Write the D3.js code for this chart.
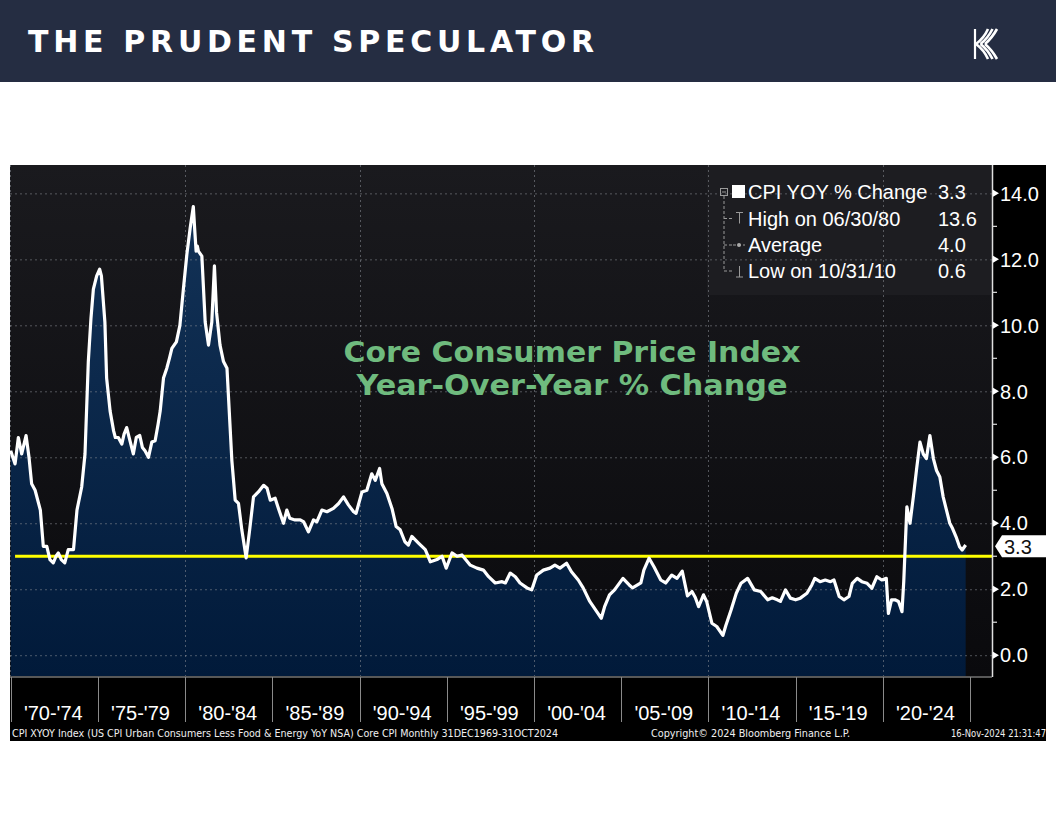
<!DOCTYPE html>
<html>
<head>
<meta charset="utf-8">
<script src="https://cdn.jsdelivr.net/npm/d3@7"></script>
<style>
html,body{margin:0;padding:0;background:#fff;}
svg{display:block;}
</style>
</head>
<body>
<svg id="chart" width="1056" height="816"></svg>
<script>
// ---------- DATA ----------
const years = [
1970.0,1970.25,1970.44,1970.63,1970.88,1971.05,1971.2,1971.4,1971.7,1971.87,
1972.07,1972.25,1972.44,1972.6,1972.73,1972.9,1973.1,1973.3,1973.6,1973.8,
1974.07,1974.26,1974.45,1974.6,1974.74,1974.93,1975.1,1975.2,1975.4,1975.5,
1975.7,1975.9,1976.0,1976.17,1976.37,1976.5,1976.65,1976.84,1977.03,1977.2,
1977.4,1977.55,1977.7,1977.9,1978.09,1978.28,1978.45,1978.57,1978.76,1978.95,
1979.1,1979.24,1979.5,1979.7,1979.9,1980.1,1980.29,1980.47,1980.55,1980.63,
1980.7,1980.76,1980.96,1981.15,1981.34,1981.53,1981.68,1981.8,1982.0,1982.2,
1982.4,1982.58,1982.68,1982.87,1983.06,1983.25,1983.5,1983.7,1983.92,1984.2,
1984.5,1984.7,1984.88,1985.16,1985.35,1985.64,1985.83,1986.0,1986.3,1986.6,
1986.8,1987.07,1987.36,1987.55,1987.84,1988.13,1988.5,1988.8,1989.08,1989.37,
1989.66,1989.8,1990.14,1990.42,1990.7,1990.9,1991.15,1991.28,1991.57,1991.86,
1992.1,1992.33,1992.6,1992.8,1993.0,1993.38,1993.77,1994.06,1994.44,1994.73,
1994.97,1995.3,1995.59,1995.87,1996.35,1996.73,1997.1,1997.4,1997.78,1998.17,
1998.36,1998.64,1998.93,1999.2,1999.6,1999.87,2000.16,2000.54,2000.92,2001.2,
2001.49,2001.87,2002.15,2002.54,2002.82,2003.2,2003.6,2003.86,2004.05,2004.33,
2004.62,2005.1,2005.46,2005.65,2006.13,2006.3,2006.6,2006.88,2007.27,2007.55,
2007.9,2008.2,2008.5,2008.8,2009.06,2009.25,2009.44,2009.72,2009.9,2010.2,
2010.48,2010.83,2011.0,2011.3,2011.6,2011.87,2012.25,2012.63,2013.0,2013.4,
2013.66,2013.95,2014.13,2014.42,2014.7,2015.0,2015.27,2015.65,2015.93,2016.1,
2016.4,2016.7,2017.0,2017.2,2017.5,2017.77,2018.06,2018.25,2018.53,2018.8,
2019.1,2019.37,2019.66,2019.94,2020.2,2020.32,2020.5,2020.7,2020.9,2021.1,
2021.2,2021.38,2021.56,2021.75,2021.95,2022.13,2022.32,2022.5,2022.7,2022.9,
2023.08,2023.27,2023.46,2023.65,2023.84,2024.0,2024.2,2024.4,2024.55,2024.75
];
const values = [
6.2,5.8,6.6,6.1,6.66,6.0,5.2,5.0,4.4,3.3,
3.3,2.9,2.8,3.0,3.1,2.9,2.8,3.2,3.2,4.4,
5.1,6.1,8.9,10.2,11.1,11.5,11.7,11.5,10.1,8.4,
7.4,6.8,6.6,6.6,6.4,6.7,6.9,6.5,6.1,6.6,
6.66,6.3,6.2,6.0,6.46,6.5,7.0,7.4,8.4,8.7,
9.0,9.3,9.5,10.0,11.1,12.15,12.95,13.6,12.9,12.25,
12.4,12.25,12.1,10.1,9.4,10.1,11.8,10.4,9.4,8.9,
8.7,6.9,5.9,4.7,4.6,3.8,2.95,3.8,4.8,4.95,
5.15,5.06,4.7,4.76,4.45,4.0,4.4,4.15,4.1,4.1,
4.04,3.74,4.1,4.04,4.4,4.35,4.45,4.6,4.8,4.55,
4.35,4.3,4.95,5.0,5.5,5.3,5.66,5.2,4.9,4.45,
3.9,3.8,3.44,3.34,3.6,3.4,3.2,2.83,2.9,3.0,
2.64,3.1,3.0,3.04,2.73,2.64,2.58,2.38,2.19,2.23,
2.19,2.49,2.38,2.19,2.04,1.98,2.43,2.58,2.64,2.73,
2.64,2.79,2.53,2.28,2.04,1.63,1.32,1.12,1.47,1.83,
1.98,2.33,2.13,2.04,2.19,2.58,2.94,2.68,2.28,2.19,
2.43,2.33,2.55,1.8,1.93,1.75,1.47,1.83,1.63,0.97,
0.87,0.6,0.9,1.37,1.88,2.18,2.33,1.98,1.93,1.68,
1.74,1.68,1.63,1.98,1.73,1.68,1.73,1.88,2.13,2.33,
2.23,2.28,2.23,2.28,1.78,1.68,1.78,2.18,2.33,2.23,
2.18,2.03,2.38,2.28,2.33,1.27,1.68,1.68,1.63,1.32,
2.23,4.5,4.0,4.8,5.7,6.46,6.1,5.96,6.66,5.96,
5.6,5.4,4.8,4.4,4.0,3.84,3.59,3.29,3.19,3.34
];
const refLevel = 3.0;
const lastValue = "3.3";
const yTicks = [0,2,4,6,8,10,12,14];
const yMinorTicks = [1,3,5,7,9,11,13];
const periodStarts = [1970,1975,1980,1985,1990,1995,2000,2005,2010,2015,2020];
const periodLabels = ["'70-'74","'75-'79","'80-'84","'85-'89","'90-'94","'95-'99","'00-'04","'05-'09","'10-'14","'15-'19","'20-'24"];
const decadeGrid = [1980,1990,2000,2010,2020];
const legendLabels = ["CPI YOY % Change","High on 06/30/80","Average","Low on 10/31/10"];
const legendValues = ["3.3","13.6","4.0","0.6"];
const titleLines = ["Core Consumer Price Index","Year-Over-Year % Change"];
const footLeft = "CPI XYOY Index (US CPI Urban Consumers Less Food & Energy YoY NSA) Core CPI  Monthly 31DEC1969-31OCT2024";
const footMid = "Copyright\u00A9 2024 Bloomberg Finance L.P.";
const footRight = "16-Nov-2024 21:31:47";
const brand = "THE PRUDENT SPECULATOR";

// ---------- LAYOUT ----------
const svg = d3.select("#chart");
const P = {left:10, right:992, top:165, bottom:676};
const x = d3.scaleLinear().domain([1969.96, 2026.26]).range([P.left, P.right]);
const y = d3.scaleLinear().domain([-0.63, 14.86]).range([P.bottom, P.top]);
const data = years.map((yr,i)=>({yr, v: values[i]}));
const FONT = "'Liberation Sans', Arial, sans-serif";

const defs = svg.append("defs");
const bg = defs.append("linearGradient").attr("id","bgGrad").attr("x1",0).attr("y1",0).attr("x2",0).attr("y2",1);
bg.append("stop").attr("offset","0%").attr("stop-color","#1a1a1e");
bg.append("stop").attr("offset","100%").attr("stop-color","#0a0a0d");
const ag = defs.append("linearGradient").attr("id","areaGrad").attr("gradientUnits","userSpaceOnUse")
  .attr("x1",0).attr("y1",P.top).attr("x2",0).attr("y2",P.bottom);
ag.append("stop").attr("offset","0%").attr("stop-color","#143459");
ag.append("stop").attr("offset","100%").attr("stop-color","#011a3a");

// header
svg.append("rect").attr("x",0).attr("y",0).attr("width",1056).attr("height",82).attr("fill","#252d42");
svg.append("text").attr("x",28).attr("y",52).attr("fill","#fff")
  .attr("font-family","'DejaVu Sans', Verdana, sans-serif").attr("font-weight","bold").attr("font-size",30)
  .attr("textLength",566).attr("lengthAdjust","spacing").text(brand);
// logo
const logo = svg.append("g").attr("stroke","#fff").attr("stroke-width",2.6).attr("fill","none").attr("stroke-linecap","butt");
[0,1,2].forEach(i=>{
  logo.append("path").attr("d",`M${976+i*4.5},${44} Q${984+i*4},${38} ${988+i*4.5},${29}`);
  logo.append("path").attr("d",`M${976+i*4.5},${44} Q${984+i*4},${50} ${988+i*4.5},${59}`);
});
logo.append("line").attr("x1",975).attr("y1",29).attr("x2",975).attr("y2",59).attr("stroke-width",2.2);

// black chart block
svg.append("rect").attr("x",10).attr("y",165).attr("width",1036).attr("height",576).attr("fill","#000");
svg.append("rect").attr("x",P.left).attr("y",P.top).attr("width",P.right-P.left).attr("height",P.bottom-P.top).attr("fill","url(#bgGrad)");

// legend box
svg.append("rect").attr("x",707).attr("y",P.top).attr("width",284).attr("height",130).attr("fill","#1d1d21");

// area
const area = d3.area().x(d=>x(d.yr)).y0(P.bottom).y1(d=>y(d.v));
svg.append("path").datum(data).attr("d",area).attr("fill","url(#areaGrad)");

// grid
const grid = svg.append("g").attr("stroke","#8a8e96").attr("stroke-opacity",0.55).attr("stroke-width",1).attr("stroke-dasharray","2,3");
yTicks.forEach(t=>grid.append("line").attr("x1",P.left).attr("x2",P.right).attr("y1",y(t)+0.5).attr("y2",y(t)+0.5));
decadeGrid.forEach(t=>grid.append("line").attr("x1",Math.round(x(t))+0.5).attr("x2",Math.round(x(t))+0.5).attr("y1",P.top).attr("y2",P.bottom));
grid.append("line").attr("x1",P.left+0.5).attr("x2",P.left+0.5).attr("y1",P.top).attr("y2",P.bottom);

// title
const tg = svg.append("g").attr("fill","#6fbb7e").attr("font-family","'DejaVu Sans', Verdana, sans-serif").attr("font-weight","bold").attr("font-size",29).attr("text-anchor","middle");
tg.append("text").attr("x",572).attr("y",362).attr("textLength",457).attr("lengthAdjust","spacingAndGlyphs").text(titleLines[0]);
tg.append("text").attr("x",572).attr("y",395).attr("textLength",431).attr("lengthAdjust","spacingAndGlyphs").text(titleLines[1]);

// yellow reference line
svg.append("line").attr("x1",x(1970.25)).attr("x2",P.right).attr("y1",y(refLevel)).attr("y2",y(refLevel))
  .attr("stroke","#ffff00").attr("stroke-width",3);

// data line
const line = d3.line().x(d=>x(d.yr)).y(d=>y(d.v));
svg.append("path").datum(data).attr("d",line).attr("fill","none").attr("stroke","#fff").attr("stroke-width",3.2).attr("stroke-linejoin","round");

// axes lines
svg.append("line").attr("x1",P.right+0.5).attr("x2",P.right+0.5).attr("y1",P.top).attr("y2",P.bottom+1).attr("stroke","#e0e0e0").attr("stroke-width",1.5);
svg.append("line").attr("x1",P.left).attr("x2",P.right).attr("y1",P.bottom+1).attr("y2",P.bottom+1).attr("stroke","#b0b0b0").attr("stroke-width",1.2);

// y ticks
const ya = svg.append("g");
yTicks.forEach(t=>{
  const yy = y(t);
  ya.append("path").attr("d",`M${P.right+1},${yy-3.5} L${P.right+7},${yy} L${P.right+1},${yy+3.5} Z`).attr("fill","#fff");
  ya.append("text").attr("x",1000).attr("y",yy).attr("dy","0.36em").attr("fill","#fff").attr("font-family",FONT).attr("font-size",20).text(t.toFixed(1));
});
yMinorTicks.forEach(t=>ya.append("line").attr("x1",P.right).attr("x2",P.right+5).attr("y1",y(t)).attr("y2",y(t)).attr("stroke","#ddd").attr("stroke-width",1.2));

// last value tag
const lv = y(+lastValue);
svg.append("path").attr("d",`M995,${lv} L1002,${lv-11} L1046,${lv-11} L1046,${lv+11} L1002,${lv+11} Z`).attr("fill","#fff");
svg.append("text").attr("x",1004).attr("y",lv).attr("dy","0.36em").attr("fill","#111").attr("font-family",FONT).attr("font-size",20).text(lastValue);

// x axis periods
const xa = svg.append("g");
periodStarts.concat([2025]).forEach(t=>{
  xa.append("line").attr("x1",Math.round(x(t))+0.5).attr("x2",Math.round(x(t))+0.5).attr("y1",P.bottom+1).attr("y2",722).attr("stroke","#8a8a8a").attr("stroke-width",1);
});
periodStarts.forEach((t,i)=>{
  xa.append("text").attr("x",x(t+2.5)-1).attr("y",720).attr("text-anchor","middle").attr("fill","#fff")
    .attr("font-family",FONT).attr("font-size",20).text(periodLabels[i]);
});

// legend
const lg = svg.append("g");
const rowY = [192,218.5,245,271];
const tree = lg.append("g").attr("stroke","#9a9a9a").attr("stroke-width",1).attr("fill","none");
tree.append("rect").attr("x",720.5).attr("y",188.5).attr("width",7).attr("height",7);
tree.append("line").attr("x1",722).attr("x2",726).attr("y1",192).attr("y2",192);
tree.append("line").attr("x1",724).attr("x2",724).attr("y1",196).attr("y2",rowY[3]).attr("stroke-dasharray","3,2");
[1,2,3].forEach(i=>tree.append("line").attr("x1",724).attr("x2",733).attr("y1",rowY[i]).attr("y2",rowY[i]).attr("stroke-dasharray","3,2"));
lg.append("rect").attr("x",732).attr("y",185).attr("width",13).attr("height",13).attr("fill","#fff");
// High icon
tree.append("line").attr("x1",736).attr("x2",743).attr("y1",rowY[1]-6).attr("y2",rowY[1]-6);
tree.append("line").attr("x1",739.5).attr("x2",739.5).attr("y1",rowY[1]-6).attr("y2",rowY[1]+5);
// Average icon
tree.append("line").attr("x1",733).attr("x2",745).attr("y1",rowY[2]).attr("y2",rowY[2]).attr("stroke-dasharray","3,2");
lg.append("circle").attr("cx",739).attr("cy",rowY[2]).attr("r",2).attr("fill","#aaa");
// Low icon
tree.append("line").attr("x1",736).attr("x2",743).attr("y1",rowY[3]+6).attr("y2",rowY[3]+6);
tree.append("line").attr("x1",739.5).attr("x2",739.5).attr("y1",rowY[3]-5).attr("y2",rowY[3]+6);
legendLabels.forEach((s,i)=>{
  lg.append("text").attr("x",748).attr("y",rowY[i]).attr("dy","0.36em").attr("fill","#fff").attr("font-family",FONT).attr("font-size",20).text(s);
  lg.append("text").attr("x",938).attr("y",rowY[i]).attr("dy","0.36em").attr("fill","#fff").attr("font-family",FONT).attr("font-size",20).text(legendValues[i]);
});

// footer
const FF = "'Liberation Sans Narrow','DejaVu Sans Condensed','Liberation Sans',sans-serif";
svg.append("text").attr("x",12).attr("y",737).attr("fill","#f0f0f0").attr("font-family",FF).attr("font-size",10)
  .attr("textLength",546).attr("lengthAdjust","spacingAndGlyphs").text(footLeft);
svg.append("text").attr("x",651).attr("y",737).attr("fill","#f0f0f0").attr("font-family",FF).attr("font-size",10)
  .attr("textLength",199).attr("lengthAdjust","spacingAndGlyphs").text(footMid);
svg.append("text").attr("x",951).attr("y",737).attr("fill","#f0f0f0").attr("font-family",FF).attr("font-size",10)
  .attr("textLength",95).attr("lengthAdjust","spacingAndGlyphs").text(footRight);
</script>
</body>
</html>
